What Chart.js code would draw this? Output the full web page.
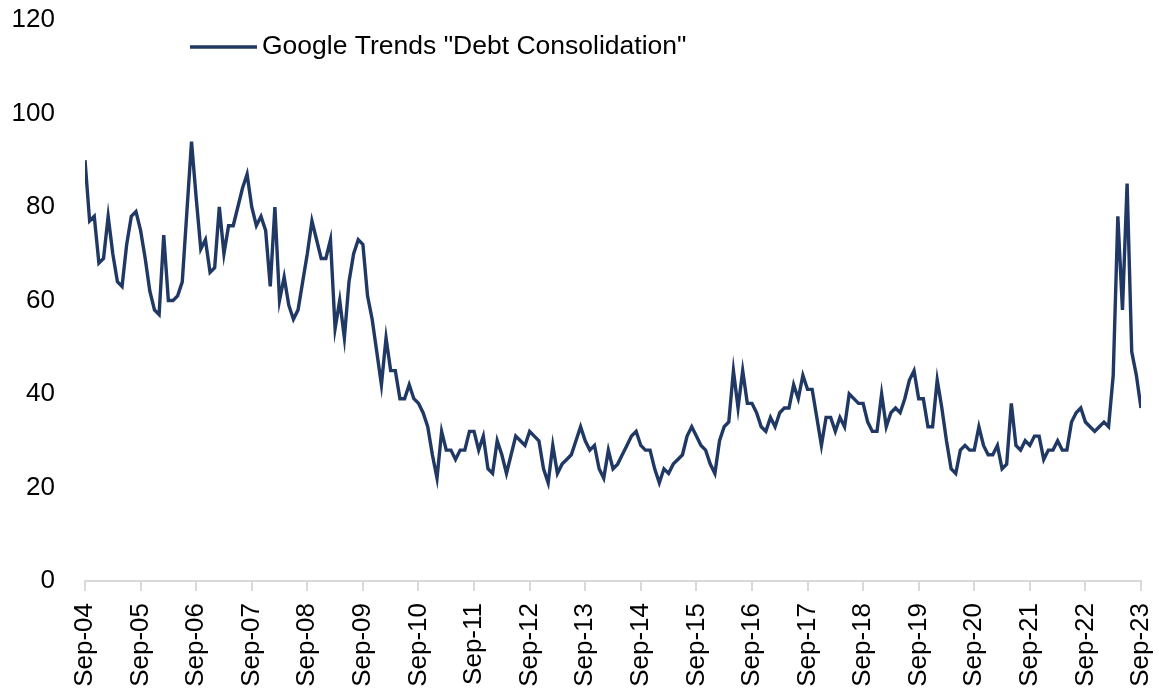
<!DOCTYPE html>
<html>
<head>
<meta charset="utf-8">
<title>Google Trends "Debt Consolidation"</title>
<script src="https://cdn.jsdelivr.net/npm/chart.js@4/dist/chart.umd.min.js"></script>
<style>
  html, body { margin: 0; padding: 0; background: #fff; }
  #wrap { width: 1159px; height: 691px; }
</style>
</head>
<body>
<div id="wrap"><canvas id="trends" width="1159" height="691"></canvas></div>
<script>
const seriesLabel = 'Google Trends "Debt Consolidation"';

// one label per year, every 12th month starting Sep-04
const yearTicks = [
  "Sep-04", "Sep-05", "Sep-06", "Sep-07", "Sep-08", "Sep-09", "Sep-10",
  "Sep-11", "Sep-12", "Sep-13", "Sep-14", "Sep-15", "Sep-16", "Sep-17",
  "Sep-18", "Sep-19", "Sep-20", "Sep-21", "Sep-22", "Sep-23"
];

// monthly search interest, Sep-04 .. Sep-23
const interest = [
  90, 77, 78, 68, 69, 78, 70, 64, 63, 72, 78, 79,   // Sep-04
  75, 69, 62, 58, 57, 74, 60, 60, 61, 64, 79, 94,   // Sep-05
  82, 71, 73, 66, 67, 80, 70, 76, 76, 80, 84, 87,   // Sep-06
  80, 76, 78, 75, 63, 80, 60, 65, 59, 56, 58, 64,   // Sep-07
  70, 77, 73, 69, 69, 73, 54, 60, 52, 64, 70, 73,   // Sep-08
  72, 61, 56, 49, 42, 52, 45, 45, 39, 39, 42, 39,   // Sep-09
  38, 36, 33, 27, 22, 32, 28, 28, 26, 28, 28, 32,   // Sep-10
  32, 28, 31, 24, 23, 30, 27, 23, 27, 31, 30, 29,   // Sep-11
  32, 31, 30, 24, 21, 29, 23, 25, 26, 27, 30, 33,   // Sep-12
  30, 28, 29, 24, 22, 28, 24, 25, 27, 29, 31, 32,   // Sep-13
  29, 28, 28, 24, 21, 24, 23, 25, 26, 27, 31, 33,   // Sep-14
  31, 29, 28, 25, 23, 30, 33, 34, 45, 37, 45, 38,   // Sep-15
  38, 36, 33, 32, 35, 33, 36, 37, 37, 42, 39, 44,   // Sep-16
  41, 41, 35, 29, 35, 35, 32, 35, 33, 40, 39, 38,   // Sep-17
  38, 34, 32, 32, 40, 33, 36, 37, 36, 39, 43, 45,   // Sep-18
  39, 39, 33, 33, 43, 37, 30, 24, 23, 28, 29, 28,   // Sep-19
  28, 33, 29, 27, 27, 29, 24, 25, 38, 29, 28, 30,   // Sep-20
  29, 31, 31, 26, 28, 28, 30, 28, 28, 34, 36, 37,   // Sep-21
  34, 33, 32, 33, 34, 33, 44, 78, 58, 85, 49, 44,   // Sep-22
  37                                                // Sep-23
];

const navy = "#203864";
const axisGrey = "#d9d9d9";
const fontFamily = '"Liberation Sans", Arial, sans-serif';

// legend drawn inside the plot, just under the top of the value axis
const insideLegend = {
  id: "insideLegend",
  afterDraw(chart) {
    const { ctx, chartArea } = chart;
    const ds = chart.data.datasets[0];
    const y = chartArea.top + 27;
    const x0 = chartArea.left + 105;
    ctx.save();
    ctx.strokeStyle = ds.borderColor;
    ctx.lineWidth = 3.5;
    ctx.beginPath();
    ctx.moveTo(x0, y);
    ctx.lineTo(x0 + 67, y);
    ctx.stroke();
    ctx.fillStyle = "#000";
    ctx.font = "26.5px " + fontFamily;
    ctx.textBaseline = "middle";
    ctx.textAlign = "left";
    ctx.fillText(ds.label, x0 + 72, y);
    ctx.restore();
  }
};

new Chart(document.getElementById("trends"), {
  type: "line",
  data: {
    datasets: [{
      label: seriesLabel,
      data: interest.map((v, i) => ({ x: i, y: v })),
      borderColor: navy,
      backgroundColor: navy,
      borderWidth: 3.4,
      pointRadius: 0,
      tension: 0,
      fill: false
    }]
  },
  options: {
    responsive: false,
    animation: false,
    devicePixelRatio: 1,
    layout: { padding: { top: 20, right: 18, left: 0, bottom: 0 } },
    plugins: {
      legend: { display: false },
      tooltip: { enabled: false }
    },
    scales: {
      x: {
        type: "linear",
        min: 0,
        max: interest.length - 1,
        border: { display: true, color: axisGrey, width: 2 },
        grid: {
          display: true,
          drawOnChartArea: false,
          drawTicks: true,
          tickLength: 10,
          color: axisGrey,
          lineWidth: 2
        },
        ticks: {
          stepSize: 12,
          autoSkip: false,
          maxRotation: 90,
          minRotation: 90,
          padding: 12,
          color: "#000",
          font: { family: fontFamily, size: 26 },
          callback: (v) => yearTicks[v / 12]
        },
        afterFit(scale) {
          scale.height = 110;
          scale.paddingLeft = 0;
          scale.paddingRight = 0;
        }
      },
      y: {
        min: 0,
        max: 120,
        border: { display: false },
        // invisible tick marks keep the labels clear of the plot edge
        grid: {
          display: true,
          drawOnChartArea: false,
          drawTicks: true,
          tickLength: 30,
          color: "rgba(0,0,0,0)"
        },
        ticks: {
          stepSize: 20,
          padding: 0,
          color: "#000",
          font: { family: fontFamily, size: 26 }
        },
        afterFit(scale) {
          scale.width = 85;
          scale.paddingTop = 0;
          scale.paddingBottom = 0;
        }
      }
    }
  },
  plugins: [insideLegend]
});
</script>
</body>
</html>
